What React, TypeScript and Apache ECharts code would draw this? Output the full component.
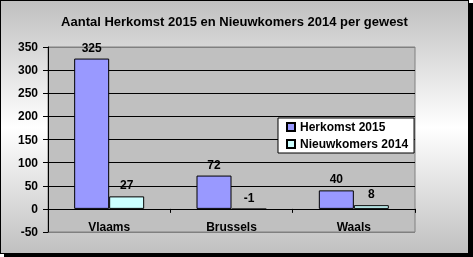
import React, { useEffect, useRef } from "react";
import * as echarts from "echarts";

const titleText = "Aantal Herkomst 2015 en Nieuwkomers 2014 per gewest";
const categories = ["Vlaams", "Brussels", "Waals"];
const seriesNames = ["Herkomst 2015", "Nieuwkomers 2014"];
const herkomst2015 = [325, 72, 40];
const nieuwkomers2014 = [27, -1, 8];
const yMin = -50;
const yMax = 350;
const yInterval = 50;

const FONT = "'Liberation Sans', Arial, sans-serif";

export default function App() {
  const ref = useRef<HTMLDivElement>(null);
  useEffect(() => {
    if (!ref.current) return;
    const chart = echarts.init(ref.current, null, { renderer: "svg" });
    const nLines = Math.round((yMax - yMin) / yInterval) + 1;
    const splitColors = Array.from({ length: nLines }, (_, i) =>
      i === 0 || i === nLines - 1 ? "#808080" : "#000000"
    );
    const labelStyle = {
      show: true,
      position: "top" as const,
      distance: 5,
      color: "#000",
      fontSize: 12,
      fontWeight: "bold" as const,
      fontFamily: FONT,
    };
    chart.setOption({
      animation: false,
      backgroundColor: "transparent",
      textStyle: { fontFamily: FONT },
      title: {
        text: titleText,
        left: "center",
        top: 14,
        padding: 0,
        textStyle: { fontSize: 13, fontWeight: "bold", color: "#000", fontFamily: FONT },
      },
      legend: {
        orient: "vertical",
        left: 277,
        top: 117,
        padding: [2, 6, 2, 8],
        itemGap: 3,
        itemWidth: 8,
        itemHeight: 8,
        icon: "rect",
        backgroundColor: "#ffffff",
        borderColor: "#000000",
        borderWidth: 1,
        borderRadius: 0,
        data: seriesNames,
        textStyle: { fontSize: 12, fontWeight: "bold", color: "#000", fontFamily: FONT, lineHeight: 14 },
      },
      grid: {
        left: 47,
        top: 46,
        width: 367,
        height: 185,
        outerBoundsMode: "none",
        containLabel: false,
        show: true,
        backgroundColor: "#C0C0C0",
        borderColor: "#808080",
        borderWidth: 1,
      },
      xAxis: {
        type: "category",
        data: categories,
        axisLine: { onZero: true, onZeroAxisIndex: 0, lineStyle: { color: "#000", width: 1 } },
        axisTick: { show: true, length: 4, lineStyle: { color: "#000" } },
        axisLabel: { margin: -11, fontSize: 12, fontWeight: "bold", color: "#000", fontFamily: FONT },
        splitLine: { show: false },
      },
      yAxis: {
        type: "value",
        min: yMin,
        max: yMax,
        interval: yInterval,
        axisLine: { show: true, lineStyle: { color: "#000", width: 1 } },
        axisTick: { show: true, length: 5, lineStyle: { color: "#000" } },
        axisLabel: { margin: 10, fontSize: 12, fontWeight: "bold", color: "#000", fontFamily: FONT },
        splitLine: { show: true, lineStyle: { color: splitColors, width: 1 } },
      },
      series: [
        {
          name: seriesNames[0],
          type: "bar",
          data: herkomst2015,
          barWidth: 35,
          barGap: "0%",
          itemStyle: { color: "#9999FF", borderColor: "#000", borderWidth: 1 },
          label: labelStyle,
        },
        {
          name: seriesNames[1],
          type: "bar",
          data: nieuwkomers2014,
          barWidth: 35,
          barGap: "0%",
          itemStyle: { color: "#CCFFFF", borderColor: "#000", borderWidth: 1 },
          label: labelStyle,
        },
      ],
    });
    return () => chart.dispose();
  }, []);

  return (
    <div
      style={{
        position: "fixed",
        left: 0,
        top: 0,
        width: 469,
        height: 254,
        boxSizing: "border-box",
        border: "1px solid #000",
        boxShadow: "4px 3px 0 #000",
        background: "linear-gradient(to bottom, #c0c0c0 0%, #ffffff 50%, #c0c0c0 100%)",
      }}
    >
      <div ref={ref} style={{ width: 467, height: 252 }} />
    </div>
  );
}
